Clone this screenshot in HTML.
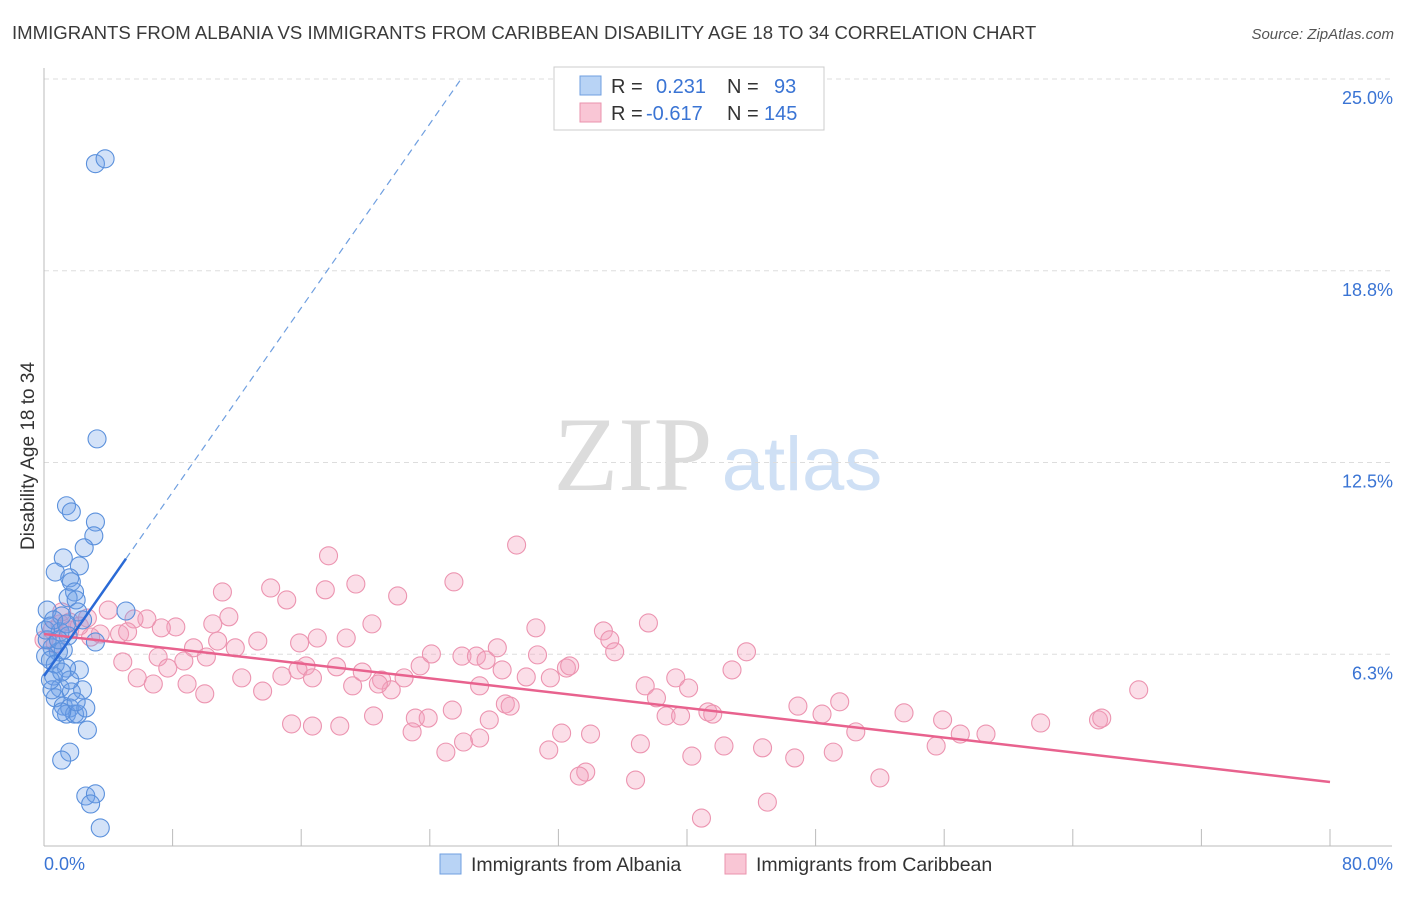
<!DOCTYPE html>
<html><head><meta charset="utf-8"><style>
body{margin:0;background:#fff;font-family:"Liberation Sans",sans-serif}
</style></head><body>
<svg width="1406" height="892" xmlns="http://www.w3.org/2000/svg" font-family="Liberation Sans, sans-serif">
<text x="12" y="39" font-size="18.6" fill="#3a3a3a">IMMIGRANTS FROM ALBANIA VS IMMIGRANTS FROM CARIBBEAN DISABILITY AGE 18 TO 34 CORRELATION CHART</text>
<text x="1394" y="39" font-size="15" fill="#555" font-style="italic" text-anchor="end">Source: ZipAtlas.com</text>
<g>
<text x="633" y="490" font-size="106" fill="#dcdcdc" font-family="Liberation Serif, serif" text-anchor="middle">ZIP</text>
<text x="802" y="490" font-size="76" fill="#cfe0f5" text-anchor="middle">atlas</text>
</g>
<g id="grid"></g>
<g id="axes"></g>
<g id="marks"></g>
<text transform="translate(34,456) rotate(-90)" font-size="19" fill="#333" text-anchor="middle">Disability Age 18 to 34</text>
<g>
<rect x="554" y="67" width="270" height="63" fill="#fff" stroke="#ccc"/>
<rect x="580" y="76" width="21" height="19" fill="#b8d3f5" stroke="#6f9fe0"/>
<rect x="580" y="103" width="21" height="19" fill="#f9c6d5" stroke="#ea93ad"/>
<text x="611" y="93" font-size="20" fill="#333">R =</text><text x="656" y="93" font-size="20" fill="#3a74d4">0.231</text>
<text x="727" y="93" font-size="20" fill="#333">N =</text><text x="774" y="93" font-size="20" fill="#3a74d4">93</text>
<text x="611" y="120" font-size="20" fill="#333">R =</text><text x="646" y="120" font-size="20" fill="#3a74d4">-0.617</text>
<text x="727" y="120" font-size="20" fill="#333">N =</text><text x="764" y="120" font-size="20" fill="#3a74d4">145</text>
</g>
<g>
<rect x="440" y="854" width="21" height="20" fill="#b8d3f5" stroke="#6f9fe0"/>
<text x="471" y="871" font-size="19.5" fill="#333">Immigrants from Albania</text>
<rect x="725" y="854" width="21" height="20" fill="#f9c6d5" stroke="#ea93ad"/>
<text x="756" y="871" font-size="19.5" fill="#333">Immigrants from Caribbean</text>
</g>
</svg>
<script>
const yTicks=[6.25,12.5,18.75,25];
const yTickLabels=["6.3%","12.5%","18.8%","25.0%"];
const xTicks=[0,8,16,24,32,40,48,56,64,72,80];
const albaniaX=[3.2,3.8,3.3,1.4,1.7,3.2,3.1,2.5,1.2,2.2,0.7,1.6,1.7,1.9,1.5,2.0,0.2,1.1,2.1,5.1,2.4,0.4,1.0,1.5,3.2,0.5,0.9,1.2,0.1,2.2,1.4,0.6,2.4,1.0,1.7,0.7,1.2,1.6,1.4,1.9,2.1,2.6,1.1,0.5,1.6,2.7,1.6,1.1,2.6,3.2,2.9,3.5,0.2,0.4,0.7,1.1,2.0,0.1,0.6,0.9,1.4,0.4];
const albaniaY=[22.24,22.40,13.27,11.09,10.89,10.56,10.11,9.72,9.39,9.13,8.93,8.74,8.61,8.28,8.09,8.02,7.69,7.50,7.63,7.66,7.37,7.17,6.98,6.85,6.65,6.46,6.33,6.39,6.19,5.74,5.80,5.54,5.09,5.15,5.02,4.83,4.56,4.50,4.30,4.30,4.30,4.50,4.37,5.09,5.41,3.78,3.06,2.80,1.63,1.70,1.37,0.59,6.72,6.06,5.93,5.67,4.70,7.04,7.37,6.72,7.24,5.41];
const caribX=[17.7,29.4,25.5,19.4,17.5,14.1,15.1,22.0,11.1,11.5,10.5,30.6,34.8,37.6,20.4,8.2,7.3,6.4,5.6,4.0,4.7,5.2,3.5,2.9,1.6,13.3,10.8,11.9,9.3,10.1,8.7,7.1,4.9,7.7,5.8,6.8,8.9,10.0,12.3,13.6,15.9,17.0,18.8,16.3,14.8,15.8,16.7,18.2,19.2,19.8,21.0,21.6,20.8,22.4,23.4,24.1,26.0,26.9,27.5,28.2,28.5,30.7,32.5,32.7,31.5,30.0,27.1,28.7,29.0,25.4,27.7,23.1,23.9,22.9,20.5,16.7,15.4,18.4,26.1,27.1,25.0,31.4,32.2,34.0,35.2,35.5,37.4,39.3,38.1,40.1,42.8,43.7,33.7,33.3,36.8,37.1,38.7,39.6,41.3,41.6,42.3,40.3,44.7,46.7,46.9,48.4,49.1,49.5,50.5,52.0,53.5,55.9,55.5,57.0,58.6,62.0,65.6,65.8,68.1,40.9,45.0,0.0,0.5,1.0,1.6,2.2,0.7,1.1,2.7];
const caribY=[9.46,9.81,8.61,8.54,8.35,8.41,8.02,8.15,8.28,7.47,7.24,7.11,7.01,7.27,7.24,7.14,7.11,7.40,7.40,7.69,6.91,6.98,6.91,6.81,7.30,6.68,6.68,6.46,6.46,6.16,6.03,6.16,6.00,5.80,5.48,5.28,5.28,4.96,5.48,5.05,6.62,6.78,6.78,5.87,5.54,5.74,5.48,5.84,5.22,5.67,5.41,5.09,5.28,5.48,5.87,6.26,6.19,6.19,6.06,6.46,5.74,6.23,5.80,5.87,5.48,5.51,5.22,4.63,4.56,4.43,4.11,4.17,4.17,3.72,4.24,3.91,3.98,3.91,3.39,3.52,3.06,3.13,3.68,3.65,6.72,6.33,5.22,5.48,4.83,5.15,5.74,6.33,2.41,2.28,2.15,3.33,4.24,4.24,4.37,4.30,3.26,2.93,3.20,2.87,4.56,4.30,3.06,4.70,3.72,2.22,4.34,4.11,3.26,3.65,3.65,4.01,4.11,4.17,5.09,0.91,1.43,6.72,7.04,7.24,7.04,7.17,6.59,7.63,7.43];
const albaniaFit=[5.54,0.75]; // intercept, slope
const caribFit=[6.91,-0.0603];
const albaniaSolidEnd=5.1;

const NS="http://www.w3.org/2000/svg";
const X0=44,X1=1330,Y0=846,Y1=79;
const xs=v=>X0+(v/80)*(X1-X0);
const ys=v=>Y0-(v/25)*(Y0-Y1);
function mk(tag,attrs,parent){const e=document.createElementNS(NS,tag);for(const k in attrs)e.setAttribute(k,attrs[k]);parent.appendChild(e);return e;}
const grid=document.getElementById('grid'),axes=document.getElementById('axes'),marks=document.getElementById('marks');
yTicks.forEach((t,i)=>{
 const l=mk('line',{x1:X0,x2:1392,y1:ys(t),y2:ys(t),stroke:'#ddd','stroke-dasharray':'5,4'},grid);
 
 
 const tx=mk('text',{x:1393,y:ys(t)+25,'font-size':18,fill:'#3a74d4','text-anchor':'end'},axes);
 tx.textContent=yTickLabels[i];
 
 
});
const ya=mk('line',{x1:X0,x2:X0,y1:68,y2:Y0,stroke:'#bbb'},axes);


const xa=mk('line',{x1:X0,x2:1392,y1:Y0,y2:Y0,stroke:'#bbb'},axes);


xTicks.forEach(t=>{
 const l=mk('line',{x1:xs(t),x2:xs(t),y1:Y0-17,y2:Y0,stroke:'#bbb'},axes);
 
 
});
const xl0=mk('text',{x:44,y:870,'font-size':18,fill:'#3a74d4'},axes);xl0.textContent='0.0%';


const xl1=mk('text',{x:1393,y:870,'font-size':18,fill:'#3a74d4','text-anchor':'end'},axes);xl1.textContent='80.0%';



caribX.forEach((v,i)=>{
 const c=mk('circle',{cx:xs(v),cy:ys(caribY[i]),r:9,fill:'rgba(244,160,188,0.35)',stroke:'#ec94b0','stroke-width':1.1},marks);
 
 
});
albaniaX.forEach((v,i)=>{
 const c=mk('circle',{cx:xs(v),cy:ys(albaniaY[i]),r:9,fill:'rgba(110,160,232,0.3)',stroke:'#5a90dc','stroke-width':1.1},marks);
 
 
});
const pl=mk('line',{x1:xs(0),y1:ys(caribFit[0]),x2:xs(80),y2:ys(caribFit[0]+caribFit[1]*80),stroke:'#e8628e','stroke-width':2.5},marks);


const xEnd=(25-albaniaFit[0])/albaniaFit[1];
const bd=mk('line',{x1:xs(albaniaSolidEnd),y1:ys(albaniaFit[0]+albaniaFit[1]*albaniaSolidEnd),x2:xs(xEnd),y2:ys(25),stroke:'#6f9fe0','stroke-width':1.2,'stroke-dasharray':'7,5'},marks);


const bl=mk('line',{x1:xs(0),y1:ys(albaniaFit[0]),x2:xs(albaniaSolidEnd),y2:ys(albaniaFit[0]+albaniaFit[1]*albaniaSolidEnd),stroke:'#2a6ad6','stroke-width':2.5},marks);


</script>
</body></html>
